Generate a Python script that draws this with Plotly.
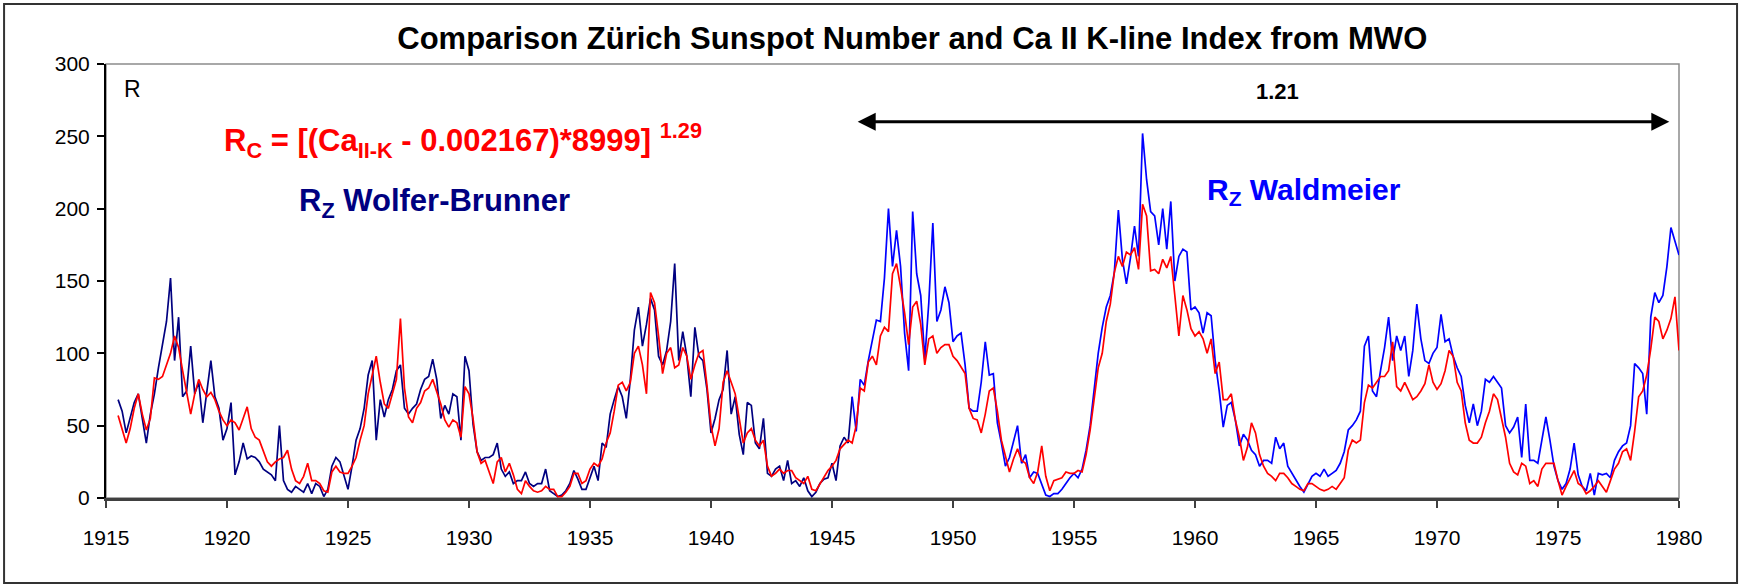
import plotly.graph_objects as go

# bi-monthly samples (every 2 months), starting mid-1915
START_YEAR = 1915.5
STEP = 1 / 6

# Rz Wolfer-Brunner, 1915.5 - 1945.83
rz_wolfer = [
    68, 60, 45, 56, 66, 72, 55, 38, 58, 72, 90, 105, 122, 152, 95, 125, 70, 74, 105, 72, 80, 52, 72,
    95, 70, 62, 40, 48, 66, 16, 25, 38, 27, 29, 28, 25, 20, 18, 16, 12, 50, 12, 6, 4, 8,
    6, 4, 10, 3, 10, 8, 1, 6, 22, 28, 25, 16, 6, 22, 40, 48, 62, 85, 95, 40,
    68, 56, 68, 75, 88, 92, 62, 58, 62, 65, 75, 82, 84, 96, 82, 55, 64, 58, 72, 70,
    40, 98, 88, 51, 32, 26, 28, 28, 30, 38,
    20, 15, 18, 10, 12, 12, 18, 10, 8, 10, 10, 20, 5, 3, 1, 2, 5, 10, 19, 13,
    6, 6, 14, 22, 12, 38, 35, 58, 68, 77, 70, 55, 82, 116, 132, 105, 120, 138, 130, 98,
    92, 102, 122, 162, 95, 115, 98, 70, 118, 98,
    95, 75, 45, 55, 68, 75, 102, 58, 70, 44, 30, 66, 64, 38, 34, 55, 17, 15, 20, 22,
    12, 26, 10, 12, 8, 14, 5, 1, 4, 10, 13, 14, 24, 12, 36, 42, 38, 70,
]

# Rz Waldmeier, 1945.83 - 1980.0
RZ_WALDMEIER_START = 1915.5 + 182 / 6
rz_waldmeier = [
    70, 46, 82, 78, 95, 110, 123, 122, 152, 200, 160, 185,
    160, 114, 88, 198, 155, 140, 96, 135, 190, 122, 130, 146, 135, 108, 112, 114, 92, 62, 60, 60,
    80, 108, 85, 86, 52, 38, 22, 28, 40, 50, 24, 30, 14, 18, 17, 10, 2, 1, 3, 3,
    6, 10, 14, 17, 14, 20, 33, 50, 75, 100,
    118, 132, 140, 156, 199, 165, 148, 166, 188, 167, 252, 220, 198, 195, 175, 200, 172, 205, 150, 167,
    172, 170, 130, 132, 128, 114, 128, 126, 95, 74, 49, 64, 66, 54, 36, 44, 40, 33, 30, 22,
    26, 26, 24, 42, 34, 38, 22, 17, 12,
    8, 4, 10, 15, 17, 15, 20, 15, 17, 19, 24, 32, 47, 50, 54, 60, 105, 112, 74, 70,
    88, 104, 125, 95, 112, 102, 112, 84, 102, 134, 110, 95, 93, 100, 104, 127, 108, 110, 98, 90,
    84, 64, 52, 65, 50, 60, 82, 80, 84, 80,
    76, 50, 45, 49, 56, 28, 65, 26, 26, 24, 40, 56, 40, 22, 12, 6, 10, 20, 38, 16,
    8, 5, 17, 2, 17, 16, 17, 14, 26, 32, 36, 38, 50, 93, 90, 86, 58, 125, 142, 135,
    140, 160, 187, 178, 168,
]

# Rc from the Ca II K-line index, 1915.5 - 1980.0
rc_ca_k = [
    57, 48, 38, 48, 62, 72, 58, 47, 55, 83, 82, 84, 92, 100, 112, 104, 88, 72, 58, 72, 82, 75, 70,
    73, 68, 60, 54, 50, 54, 52, 47, 55, 63, 48, 42, 40, 33, 25, 22, 25, 27, 28, 33, 20, 12,
    10, 15, 24, 12, 12, 10, 5, 4, 18, 22, 18, 17, 17, 22, 28, 40, 50, 72, 86, 98,
    80, 65, 62, 72, 82, 124, 76, 56, 52, 62, 66, 74, 76, 82, 74, 65, 54, 49, 54, 52,
    42, 77, 72, 55, 32, 24, 26, 18, 10, 25,
    28, 18, 24, 16, 6, 3, 12, 8, 5, 4, 5, 8, 6, 6, 1, 1, 4, 8, 17, 17,
    10, 12, 20, 24, 22, 27, 38, 45, 60, 78, 80, 74, 80, 100, 105, 92, 72, 142, 135, 112,
    86, 100, 104, 90, 92, 104, 98, 82, 92, 100,
    102, 78, 50, 36, 48, 80, 88, 80, 72, 55, 38, 45, 48, 40, 36, 40, 22, 15, 17, 20,
    17, 19, 19, 14, 12, 10, 15, 6, 5, 10, 15, 19, 22, 26, 34, 37, 40, 38, 50, 76,
    74, 94, 98, 92, 112, 118, 115, 155, 162,
    146, 128, 106, 132, 136, 120, 92, 110, 112, 100, 104, 106, 106, 98, 95, 90, 86, 62, 55, 54,
    45, 58, 74, 76, 60, 40, 28, 18, 27, 34, 26, 24, 14, 10, 18, 36, 15, 5, 12, 13,
    14, 18, 17, 17, 19, 18, 30, 47, 67, 90,
    100, 122, 134, 156, 167, 160, 170, 168, 173, 158, 203, 195, 157, 158, 155, 165, 159, 167, 140, 112,
    140, 130, 117, 112, 115, 110, 100, 110, 86, 94, 68, 68, 72, 54, 42, 26, 35, 52, 45, 30,
    22, 17, 15, 12, 17, 17, 14, 10, 8,
    6, 5, 10, 10, 8, 6, 5, 6, 8, 6, 10, 14, 33, 40, 38, 40, 66, 78, 76, 80,
    84, 84, 88, 108, 77, 74, 80, 74, 68, 70, 74, 79, 92, 80, 75, 79, 88, 102, 98, 80,
    74, 52, 40, 38, 38, 42, 52, 60, 72, 68,
    56, 42, 24, 18, 16, 24, 22, 10, 12, 8, 20, 24, 24, 24, 12, 2, 8, 14, 19, 10,
    8, 3, 5, 8, 12, 8, 4, 12, 20, 24, 32, 34, 26, 46, 70, 74, 85, 103, 125, 122,
    110, 116, 124, 139, 102,
]

x_ticks = list(range(1915, 1981, 5))
y_ticks = list(range(0, 301, 50))

FONT = "Arial, Liberation Sans, sans-serif"


def years(start, n):
    return [start + i * STEP for i in range(n)]


fig = go.Figure()
fig.add_trace(go.Scatter(x=years(START_YEAR, len(rz_wolfer)), y=rz_wolfer, mode="lines",
                         line=dict(color="#000080", width=1.7), name="Rz Wolfer-Brunner"))
fig.add_trace(go.Scatter(x=years(RZ_WALDMEIER_START, len(rz_waldmeier)), y=rz_waldmeier, mode="lines",
                         line=dict(color="#0000FF", width=1.7), name="Rz Waldmeier"))
fig.add_trace(go.Scatter(x=years(START_YEAR, len(rc_ca_k)), y=rc_ca_k, mode="lines",
                         line=dict(color="#FF0000", width=1.7), name="Rc"))

fig.update_layout(
    width=1741,
    height=586,
    margin=dict(l=106, r=62, t=64, b=88),
    paper_bgcolor="white",
    plot_bgcolor="white",
    showlegend=False,
    hovermode=False,
    font=dict(family=FONT, color="black"),
    title=dict(
        text="<b>Comparison Zürich Sunspot Number and Ca II K-line Index from MWO</b>",
        x=0.524, y=0.935, xanchor="center", yanchor="middle",
        font=dict(size=31, family=FONT, color="black"),
    ),
    xaxis=dict(
        range=[1915, 1980], tickvals=x_ticks, showgrid=False, zeroline=False, automargin=False,
        showline=True, linecolor="#404040", linewidth=3,
        ticks="outside", ticklen=7, tickwidth=2, tickcolor="#404040",
        tickfont=dict(size=21, color="black"), ticklabelstandoff=12,
    ),
    yaxis=dict(
        range=[0, 300], tickvals=y_ticks, showgrid=False, zeroline=False, automargin=False,
        showline=True, linecolor="black", linewidth=2,
        ticks="outside", ticklen=7, tickwidth=2, tickcolor="black",
        tickfont=dict(size=21, color="black"), ticklabelstandoff=3,
    ),
)

# plot frame (grey) and outer chart border
fig.add_shape(type="rect", xref="paper", yref="paper", x0=0, x1=1, y0=0, y1=1,
              line=dict(color="#8c8c8c", width=1.5), layer="below")
fig.add_shape(type="rect", xref="paper", yref="paper", x0=-0.0648, x1=1.0369, y0=-0.196, y1=1.138,
              line=dict(color="#333333", width=2))

fig.add_annotation(x=1915.65, y=283, xref="x", yref="y", text="R", showarrow=False,
                   xanchor="left", yanchor="middle", font=dict(size=23, color="black"))
fig.add_annotation(x=1919.8, y=247, xref="x", yref="y",
                   text="<b>R<sub>C</sub> = [(Ca<sub>II-K</sub> - 0.002167)*8999] <sup>1.29</sup></b>",
                   showarrow=False, xanchor="left", yanchor="middle", font=dict(size=31, color="#FF0000"))
fig.add_annotation(x=1922.9, y=204, xref="x", yref="y", text="<b>R<sub>Z</sub> Wolfer-Brunner</b>",
                   showarrow=False, xanchor="left", yanchor="middle", font=dict(size=31, color="#000080"))
fig.add_annotation(x=1960.4, y=212, xref="x", yref="y", text="<b>R<sub>Z</sub> Waldmeier</b>",
                   showarrow=False, xanchor="left", yanchor="middle", font=dict(size=30, color="#0000FF"))
fig.add_annotation(x=1963.4, y=281, xref="x", yref="y", text="<b>1.21</b>",
                   showarrow=False, xanchor="center", yanchor="middle", font=dict(size=22, color="black"))
fig.add_annotation(x=1979.6, y=260, ax=1946.0, ay=260, xref="x", yref="y", axref="x", ayref="y",
                   text="", showarrow=True, arrowhead=2, arrowside="end+start",
                   arrowsize=1.2, arrowwidth=3, arrowcolor="black")

# the page body has a default 8px margin; drop it so the figure sits at the window origin
fig.write_html("out.html", config={"displayModeBar": False},
               post_script="document.body.style.margin='0';")
